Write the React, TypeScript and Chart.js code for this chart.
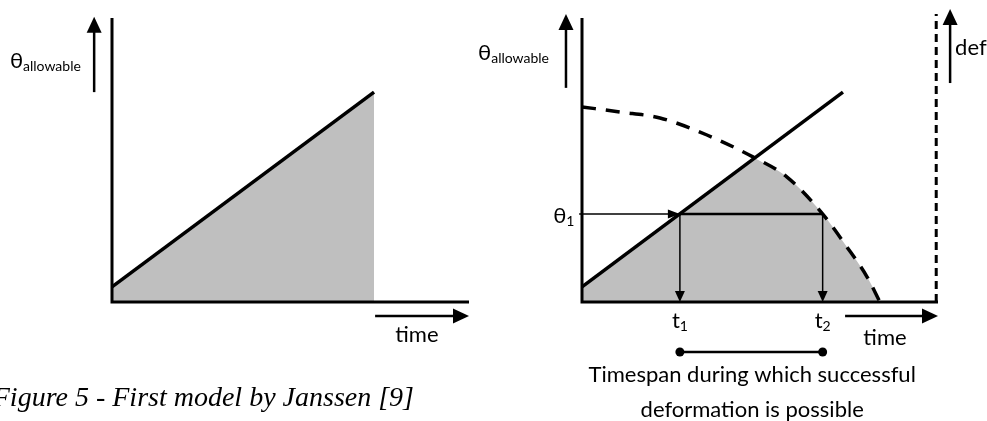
import React, { useEffect, useRef } from "react";
import { Chart, registerables } from "chart.js";
Chart.register(...registerables);

const SANS = "Lato, 'Open Sans', 'DejaVu Sans', sans-serif";
const SERIF = "'Liberation Serif', 'DejaVu Serif', serif";
const GREY = "#bfbfbf";

// ---------- shared axes (time 0..10, theta 0..10) ----------
const axisTime = [0, 0, 10];
const axisTheta = [10, 0, 0];

// ---------- left panel: first model ----------
const leftTime = [0, 7.34];
const leftTheta = [0.53, 7.39];

// ---------- right panel: second model ----------
const rightTime = [0, 7.33];
const rightTheta = [0.53, 7.39];
const curveTime = [0, 1.07, 2.19, 3.51, 4.8, 5.76, 6.74, 7.44, 8.01, 8.37];
const curveTheta = [6.87, 6.69, 6.48, 5.88, 5.11, 4.4, 3.13, 1.94, 0.88, 0];
// shaded area: straight rising part (closed under the curve part) + curved falling part
const shadeLineTime = [0, 4.85, 5.3];
const shadeLineTheta = [0.53, 5.07, 0];
const shadeCurveTime = [4.85, 5.76, 6.74, 7.44, 8.01, 8.37];
const shadeCurveTheta = [5.07, 4.4, 3.13, 1.94, 0.88, 0];
const theta1 = 3.1;
const t1 = 2.75;
const t2 = 6.76;
const limitTime = 9.95;
const limitTop = 10.14;
const spanLevel = -1.76;

type Pt = [number, number];
type Arrow = { from: Pt; to: Pt; width: number; head: number; half: number };
type Label = {
  text: string;
  sub?: string;
  at: Pt;
  size: number;
  subSize?: number;
  align?: "left" | "center";
  family?: string;
  style?: string;
};

const leftArrows: Arrow[] = [
  { from: [-0.5, 7.39], to: [-0.5, 10.04], width: 2.5, head: 16, half: 7.5 },
  { from: [7.37, -0.49], to: [10.0, -0.49], width: 2.5, head: 16, half: 7.5 },
];
const leftLabels: Label[] = [
  { text: "θ", sub: "allowable", at: [-2.86, 8.24], size: 22, subSize: 14 },
  { text: "time", at: [8.54, -1.41], size: 22, align: "center" },
  {
    text: "Figure 5 - First model by Janssen [9]",
    at: [-3.34, -3.66],
    size: 28,
    family: SERIF,
    style: "italic",
  },
];

const rightArrows: Arrow[] = [
  { from: [-0.45, 7.54], to: [-0.45, 10.14], width: 2.5, head: 16, half: 7.5 },
  { from: [7.39, -0.49], to: [10.0, -0.49], width: 2.5, head: 16, half: 7.5 },
  { from: [10.34, 7.71], to: [10.34, 10.32], width: 2.5, head: 16, half: 7.5 },
  { from: [-0.08, theta1], to: [t1, theta1], width: 1.5, head: 12, half: 4.5 },
  { from: [t1, theta1], to: [t1, 0], width: 1.5, head: 11, half: 5 },
  { from: [t2, theta1], to: [t2, 0], width: 1.5, head: 11, half: 5 },
];
const rightDots: Pt[] = [
  [t1, spanLevel],
  [t2, spanLevel],
];
const rightLabels: Label[] = [
  { text: "θ", sub: "allowable", at: [-2.92, 8.52], size: 22, subSize: 14 },
  { text: "θ", sub: "1", at: [-0.81, 2.78], size: 22, subSize: 14 },
  { text: "t", sub: "1", at: [t1, -0.92], size: 22, subSize: 14, align: "center" },
  { text: "t", sub: "2", at: [t2, -0.92], size: 22, subSize: 14, align: "center" },
  { text: "time", at: [8.51, -1.51], size: 22, align: "center" },
  { text: "def", at: [10.48, 8.7], size: 22 },
  { text: "Timespan during which successful", at: [4.78, -2.82], size: 22, align: "center" },
  { text: "deformation is possible", at: [4.78, -4.05], size: 22, align: "center" },
];

const pts = (xs: number[], ys: number[]) => xs.map((x, i) => ({ x, y: ys[i] }));

function overlay(arrows: Arrow[], labels: Label[], dots: Pt[]) {
  return {
    id: "overlay",
    afterDatasetsDraw(chart: any) {
      const { ctx } = chart;
      const sx = chart.scales.x;
      const sy = chart.scales.y;
      const px = (v: number) => sx.getPixelForValue(v);
      const py = (v: number) => sy.getPixelForValue(v);
      ctx.save();
      ctx.fillStyle = "#000";
      ctx.strokeStyle = "#000";
      for (const a of arrows) {
        const x0 = px(a.from[0]);
        const y0 = py(a.from[1]);
        const x1 = px(a.to[0]);
        const y1 = py(a.to[1]);
        const ang = Math.atan2(y1 - y0, x1 - x0);
        const bx = x1 - Math.cos(ang) * a.head;
        const by = y1 - Math.sin(ang) * a.head;
        ctx.lineWidth = a.width;
        ctx.beginPath();
        ctx.moveTo(x0, y0);
        ctx.lineTo(bx + Math.cos(ang) * 1, by + Math.sin(ang) * 1);
        ctx.stroke();
        ctx.beginPath();
        ctx.moveTo(x1, y1);
        ctx.lineTo(bx - Math.sin(ang) * a.half, by + Math.cos(ang) * a.half);
        ctx.lineTo(bx + Math.sin(ang) * a.half, by - Math.cos(ang) * a.half);
        ctx.closePath();
        ctx.fill();
      }
      for (const d of dots) {
        ctx.beginPath();
        ctx.arc(px(d[0]), py(d[1]), 4.5, 0, Math.PI * 2);
        ctx.fill();
      }
      ctx.textBaseline = "alphabetic";
      ctx.textAlign = "left";
      for (const l of labels) {
        const fam = l.family || SANS;
        const st = l.style ? l.style + " " : "";
        const mainFont = `${st}${l.size}px ${fam}`;
        const subFont = `${st}${l.subSize || 13}px ${fam}`;
        ctx.font = mainFont;
        const wMain = ctx.measureText(l.text).width;
        let wSub = 0;
        if (l.sub) {
          ctx.font = subFont;
          wSub = ctx.measureText(l.sub).width;
        }
        let x = px(l.at[0]);
        const y = py(l.at[1]);
        if (l.align === "center") x -= (wMain + wSub) / 2;
        ctx.font = mainFont;
        ctx.fillText(l.text, x, y);
        if (l.sub) {
          ctx.font = subFont;
          ctx.fillText(l.sub, x + wMain, y + 3);
        }
      }
      ctx.restore();
    },
  };
}

const baseOptions = (padding: any) => ({
  responsive: false,
  animation: false as const,
  events: [],
  layout: { padding },
  plugins: { legend: { display: false }, tooltip: { enabled: false } },
  scales: {
    x: { type: "linear" as const, min: 0, max: 10, display: false },
    y: { type: "linear" as const, min: 0, max: 10, display: false },
  },
});

const lineDs = (data: any[], width: number, extra: any = {}) => ({
  data,
  showLine: true,
  borderColor: "#000",
  borderWidth: width,
  pointRadius: 0,
  clip: false,
  fill: false,
  ...extra,
});

const shadeDs = (data: any[], extra: any = {}) => ({
  data,
  showLine: true,
  borderWidth: 0,
  borderColor: "rgba(0,0,0,0)",
  pointRadius: 0,
  fill: "origin",
  backgroundColor: GREY,
  ...extra,
});

export default function App() {
  const leftRef = useRef<HTMLCanvasElement>(null);
  const rightRef = useRef<HTMLCanvasElement>(null);

  useEffect(() => {
    const left = new Chart(leftRef.current!, {
      type: "scatter",
      data: {
        datasets: [
          lineDs(pts(axisTime, axisTheta), 3, { borderJoinStyle: "miter" }),
          lineDs(pts(leftTime, leftTheta), 3.5),
          shadeDs(pts(leftTime, leftTheta)),
        ],
      },
      options: baseOptions({ left: 112, right: 21, top: 18, bottom: 119 }) as any,
      plugins: [overlay(leftArrows, leftLabels, [])],
    });
    const right = new Chart(rightRef.current!, {
      type: "scatter",
      data: {
        datasets: [
          lineDs(pts(axisTime, axisTheta), 3, { borderJoinStyle: "miter" }),
          lineDs(pts(rightTime, rightTheta), 3.5),
          lineDs(pts(curveTime, curveTheta), 3.5, { borderDash: [14, 10], cubicInterpolationMode: "monotone" }),
          lineDs(pts([limitTime, limitTime], [0, limitTop]), 3, { borderDash: [8, 5] }),
          lineDs(pts([t1, t2], [theta1, theta1]), 2.5),
          lineDs(pts([t1, t2], [spanLevel, spanLevel]), 2.5),
          shadeDs(pts(shadeCurveTime, shadeCurveTheta), { cubicInterpolationMode: "monotone" }),
          shadeDs(pts(shadeLineTime, shadeLineTheta)),
        ],
      },
      options: baseOptions({ left: 112, right: 49, top: 18, bottom: 119 }) as any,
      plugins: [overlay(rightArrows, rightLabels, rightDots)],
    });
    return () => {
      left.destroy();
      right.destroy();
    };
  }, []);

  return (
    <div style={{ position: "fixed", left: 0, top: 0, width: 987, height: 421, background: "#fff", overflow: "hidden" }}>
      <canvas ref={leftRef} width={490} height={421} style={{ position: "absolute", left: 0, top: 0 }} />
      <canvas ref={rightRef} width={517} height={421} style={{ position: "absolute", left: 470, top: 0 }} />
    </div>
  );
}
